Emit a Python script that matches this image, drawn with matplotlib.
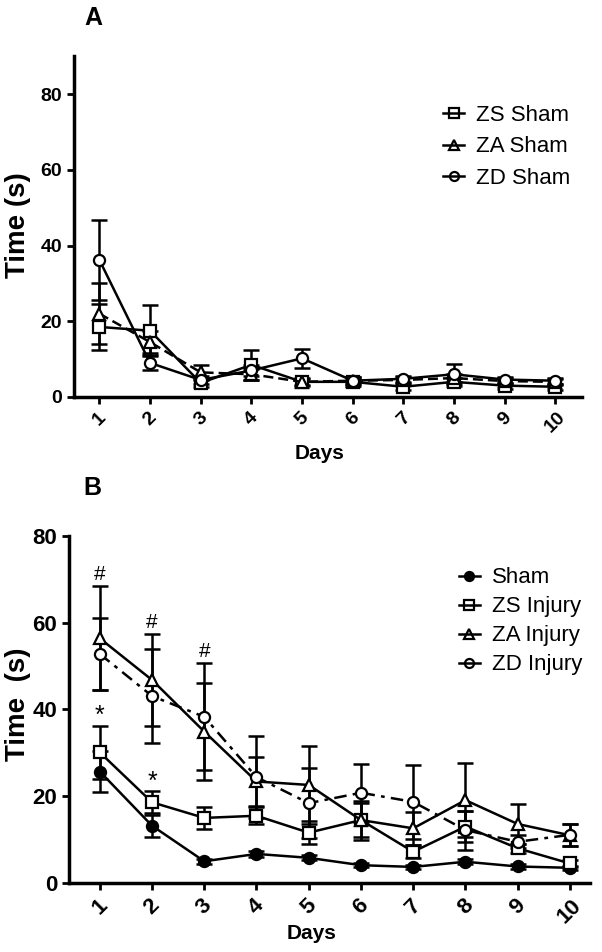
import matplotlib
matplotlib.use('Agg')
import matplotlib.pyplot as plt
from matplotlib import font_manager
from matplotlib.lines import Line2D
import numpy as np

days = list(range(1, 11))

# panel A - sham groups (mean, sem)
zs_sham = [18.5, 17.5, 3.7, 8.5, 4.0, 4.0, 2.7, 4.0, 3.0, 2.7]
zs_sham_err = [6.0, 6.8, 1.0, 4.0, 1.0, 1.0, 0.8, 1.0, 0.8, 0.8]
za_sham = [22.0, 14.5, 6.5, 6.0, 4.0, 4.3, 4.5, 5.0, 4.2, 4.0]
za_sham_err = [8.0, 3.0, 2.0, 1.5, 0.8, 1.0, 0.8, 1.0, 0.8, 0.8]
zd_sham = [36.2, 9.0, 4.5, 7.0, 10.2, 4.3, 4.8, 6.0, 4.6, 4.3]
zd_sham_err = [10.6, 2.0, 1.0, 1.5, 2.5, 1.0, 0.8, 2.6, 0.8, 0.8]

# panel B - injury groups
sham = [25.7, 13.2, 5.0, 6.7, 5.8, 4.1, 3.7, 4.9, 3.8, 3.5]
sham_err = [4.8, 2.5, 0.6, 0.6, 0.6, 0.5, 0.5, 0.6, 0.5, 0.5]
zs_inj = [30.1, 18.6, 15.0, 15.5, 11.6, 14.5, 7.2, 13.0, 8.0, 4.5]
zs_inj_err = [6.1, 2.5, 2.5, 2.0, 2.6, 4.0, 1.5, 3.5, 1.0, 0.8]
za_inj = [56.4, 46.8, 34.9, 23.4, 22.6, 14.5, 12.6, 19.1, 13.6, 11.0]
za_inj_err = [12.0, 10.6, 11.2, 5.6, 9.0, 4.5, 3.8, 8.5, 4.5, 2.5]
zd_inj = [52.8, 43.1, 38.3, 24.4, 18.4, 20.8, 18.7, 12.2, 9.5, 11.1]
zd_inj_err = [8.2, 10.9, 12.3, 9.5, 8.0, 6.7, 8.6, 4.5, 1.5, 2.6]

hash_days = [1, 2, 3]
star_days = [1, 2]


def pick(fams):
    for f in fams:
        try:
            font_manager.findfont(font_manager.FontProperties(family=f), fallback_to_default=False)
            return f
        except Exception:
            pass
    return 'DejaVu Sans'


narrow = pick(['Liberation Sans Narrow', 'Liberation Sans'])
sans = pick(['Liberation Sans', 'DejaVu Sans'])
plt.rcParams['font.family'] = sans

fig = plt.figure(figsize=(6.02, 9.52), dpi=100)
axA = fig.add_axes([0.123, 0.583, 0.844, 0.358])
axB = fig.add_axes([0.1146, 0.0725, 0.865, 0.3645])


def series(ax, y, err, marker, label, ls='-', fill='white', ms=8):
    ax.errorbar(days, y, yerr=err, fmt='none', ecolor='black', elinewidth=1.8,
                capsize=5.5, capthick=1.8, zorder=2)
    ax.plot(days, y, color='black', lw=1.8, ls=ls, marker=marker, ms=ms,
            mfc=fill, mec='black', mew=1.6, zorder=3)
    # legend key: short solid line through a small marker
    return Line2D([], [], color='black', lw=1.8, marker=marker, ms=6.5,
                  mfc='black' if fill == 'black' else 'none', mec='black', mew=1.6,
                  label=label)


def style(ax, ylim, xlim, ticksize):
    for s in ['top', 'right']:
        ax.spines[s].set_visible(False)
    for s in ['left', 'bottom']:
        ax.spines[s].set_linewidth(2.5)
    ax.set_xlim(*xlim)
    ax.set_ylim(*ylim)
    ax.set_yticks([0, 20, 40, 60, 80])
    ax.set_yticklabels(['0', '20', '40', '60', '80'], family=narrow,
                       fontweight='bold', fontsize=ticksize)
    ax.set_xticks(days)
    ax.set_xticklabels([str(d) for d in days], rotation=45, ha='center', va='top',
                       family=narrow, fontweight='bold', fontsize=ticksize)
    ax.tick_params(width=2, length=5, direction='out')


# panel A
ha = []
ha.append(series(axA, zs_sham, zs_sham_err, 's', 'ZS Sham'))
ha.append(series(axA, za_sham, za_sham_err, '^', 'ZA Sham', ls=(0, (4, 2))))
ha.append(series(axA, zd_sham, zd_sham_err, 'o', 'ZD Sham'))
style(axA, (0, 90), (0.5, 10.53), 14)
axA.set_ylabel('Time (s)', fontsize=20, fontweight='bold')
axA.yaxis.set_label_coords(-0.085, 0.504)
axA.set_xlabel('Days', fontsize=15, fontweight='bold')
axA.xaxis.set_label_coords(0.484, -0.138)
axA.legend(handles=ha, loc='upper left', bbox_to_anchor=(0.687, 0.916), frameon=False,
           fontsize=16, handlelength=0.95, handletextpad=0.55, labelspacing=0.48)
axA.text(0.02, 1.091, 'A', transform=axA.transAxes, fontsize=18, fontweight='bold',
         va='baseline', ha='left')

# panel B
hb = []
hb.append(series(axB, sham, sham_err, 'o', 'Sham', fill='black', ms=8))
hb.append(series(axB, zs_inj, zs_inj_err, 's', 'ZS Injury'))
hb.append(series(axB, za_inj, za_inj_err, '^', 'ZA Injury'))
hb.append(series(axB, zd_inj, zd_inj_err, 'o', 'ZD Injury', ls=(0, (5, 2.5, 1.5, 2.5))))
style(axB, (0, 80), (0.41, 10.38), 16)
axB.set_ylabel('Time  (s)', fontsize=20, fontweight='bold')
axB.yaxis.set_label_coords(-0.073, 0.516)
axB.set_xlabel('Days', fontsize=15, fontweight='bold')
axB.xaxis.set_label_coords(0.466, -0.118)
axB.legend(handles=hb, loc='upper left', bbox_to_anchor=(0.710, 0.967), frameon=False,
           fontsize=16, handlelength=0.95, handletextpad=0.55, labelspacing=0.36)
axB.text(0.027, 1.118, 'B', transform=axB.transAxes, fontsize=18, fontweight='bold',
         va='baseline', ha='left')

za_up = np.array(za_inj) + np.array(za_inj_err)
zd_up = np.array(zd_inj) + np.array(zd_inj_err)
zs_up = np.array(zs_inj) + np.array(zs_inj_err)
for d in hash_days:
    top = max(za_up[d - 1], zd_up[d - 1])
    axB.text(d, top + 0.5, '#', ha='center', va='bottom', fontsize=15)
for d in star_days:
    axB.text(d, zs_up[d - 1] - 0.5, '*', ha='center', va='bottom', fontsize=18)

fig.savefig('out.png', dpi=100)
